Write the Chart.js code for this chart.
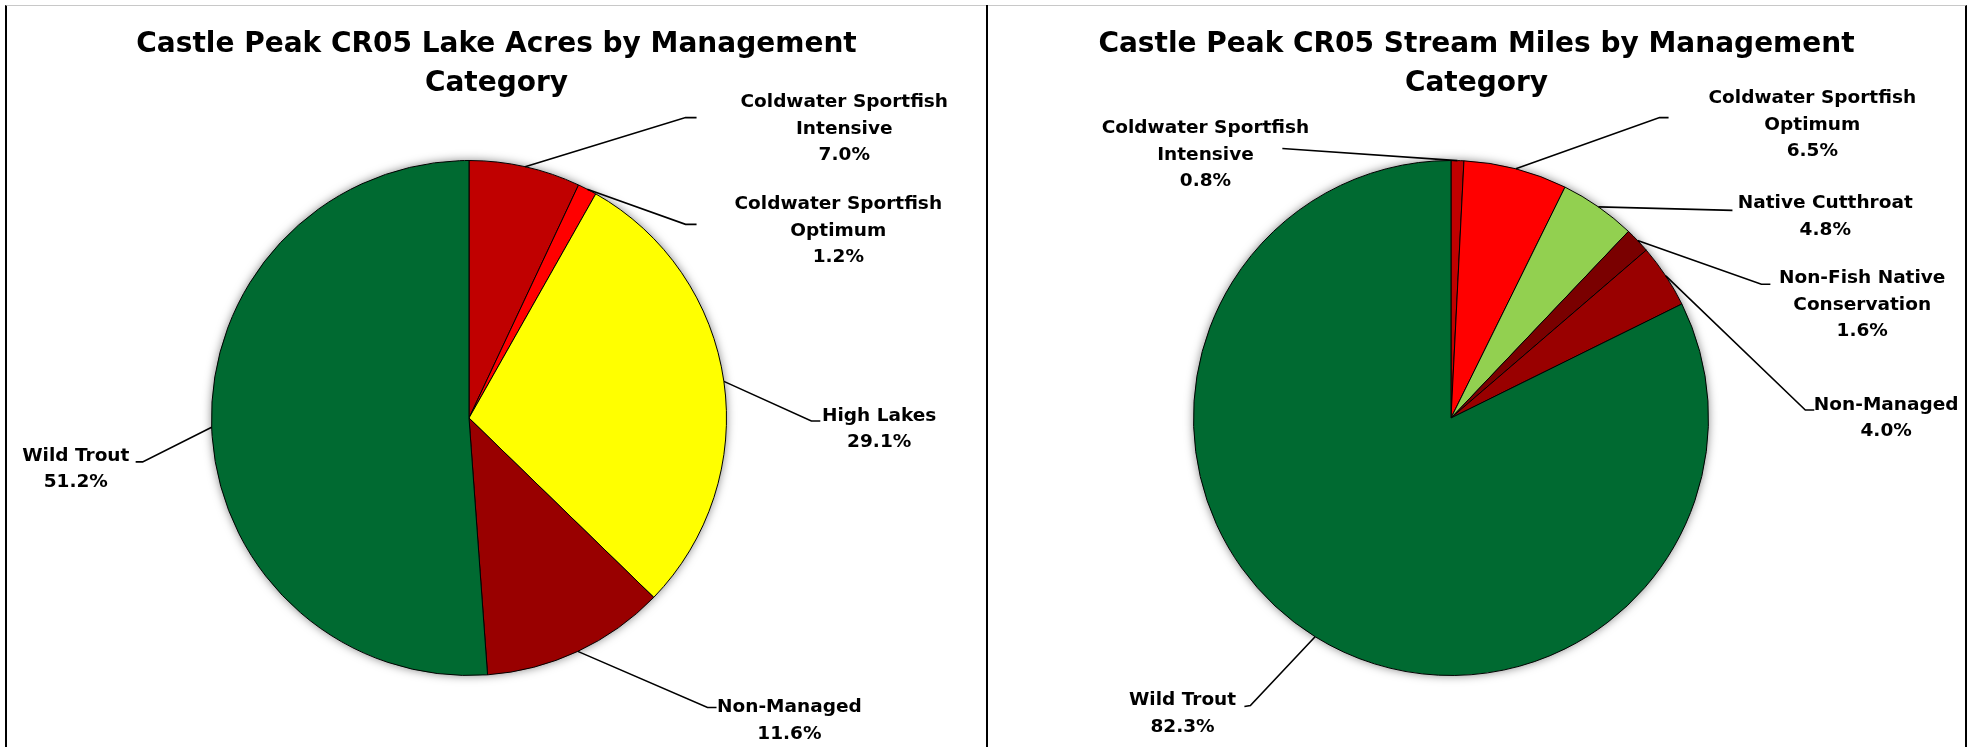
<!DOCTYPE html>
<html>
<head>
<meta charset="utf-8">
<title>Castle Peak CR05 by Management Category</title>
<script src="https://cdn.jsdelivr.net/npm/chart.js@4.4.1/dist/chart.umd.min.js"></script>
<style>
  body { margin: 0; background: #fff; }
  #frame {
    position: absolute; left: 5px; top: 5px; width: 1958px; height: 742px;
    border-top: 1px solid #c8c8c8; border-left: 2px solid #000; border-right: 2px solid #000;
  }
  #divider { position: absolute; left: 986px; top: 5px; width: 2px; height: 742px; background: #000; }
  canvas { position: absolute; top: 6px; }
  #lakeChart { left: 7px; }
  #streamChart { left: 988px; }
</style>
</head>
<body>
<div id="frame"></div>
<div id="divider"></div>
<canvas id="lakeChart" width="979" height="741"></canvas>
<canvas id="streamChart" width="977" height="741"></canvas>

<script>
// lake acres (%)
var lakeCategories = [
    ["Coldwater Sportfish", "Intensive"],
    ["Coldwater Sportfish", "Optimum"],
    ["High Lakes"],
    ["Non-Managed"],
    ["Wild Trout"]
];
var lakeValues = [7.0, 1.2, 29.1, 11.6, 51.2];
var lakeColors = ["#C00000", "#FF0000", "#FFFF00", "#990000", "#006A31"];

// stream miles (%)
var streamCategories = [
    ["Coldwater Sportfish", "Intensive"],
    ["Coldwater Sportfish", "Optimum"],
    ["Native Cutthroat"],
    ["Non-Fish Native", "Conservation"],
    ["Non-Managed"],
    ["Wild Trout"]
];
var streamValues = [0.8, 6.5, 4.8, 1.6, 4.0, 82.3];
var streamColors = ["#C00000", "#FF0000", "#92D050", "#7A0000", "#990000", "#006A31"];

// callout placement, pixels from the pie centre for a 258px radius
var lakeCallouts = [
    { tx: 376, ty: -316, leader: [[217, -301], [228, -301]] },
    { tx: 370, ty: -214, leader: [[217, -194], [228, -194]] },
    { tx: 411, ty: -2,   leader: [[343, 3], [352, 3]] },
    { tx: 321, ty: 290,  leader: [[239, 290], [248, 290]] },
    { tx: -394, ty: 38,  leader: [[-327, 44], [-334, 44]] }
];
var streamCallouts = [
    { tx: -246, ty: -290, leader: [[-169, -270]] },
    { tx: 362, ty: -320,  leader: [[209, -301], [218, -301]] },
    { tx: 375, ty: -215,  leader: [[282, -208]] },
    { tx: 412, ty: -140,  leader: [[311, -134], [320, -134]] },
    { tx: 436, ty: -13,   leader: [[355, -8], [364, -8]] },
    { tx: -269, ty: 283,  leader: [[-201, 288], [-207, 289]] }
];

var FONT = "'DejaVu Sans', Verdana, sans-serif";

// two-line heading centred on the panel
var panelTitle = {
    id: "panelTitle",
    afterDraw: function(chart, args, opts) {
        var ctx = chart.ctx;
        ctx.save();
        ctx.fillStyle = "#000";
        ctx.font = "bold 28px " + FONT;
        ctx.textAlign = "center";
        ctx.textBaseline = "alphabetic";
        opts.lines.forEach(function(t, j) {
            ctx.fillText(t, chart.width / 2, 46 + j * 39);
        });
        ctx.restore();
    }
};

// soft shadow behind the pie
var pieShadow = {
    id: "pieShadow",
    beforeDatasetsDraw: function(chart) {
        var arc = chart.getDatasetMeta(0).data[0];
        if (!arc) return;
        var p = arc.getProps(["x", "y", "outerRadius"], true);
        var ctx = chart.ctx;
        ctx.save();
        ctx.shadowColor = "rgba(0,0,0,0.5)";
        ctx.shadowBlur = 10;
        ctx.fillStyle = "#fff";
        ctx.beginPath();
        ctx.arc(p.x, p.y, p.outerRadius, 0, Math.PI * 2);
        ctx.fill();
        ctx.restore();
    }
};

// labels outside the pie with leader lines from each slice's mid angle
var calloutLabels = {
    id: "calloutLabels",
    afterDatasetsDraw: function(chart, args, opts) {
        var ctx = chart.ctx;
        var values = chart.data.datasets[0].data;
        ctx.save();
        ctx.strokeStyle = "#000";
        ctx.lineWidth = 1.6;
        ctx.fillStyle = "#000";
        ctx.font = "bold 18.5px " + FONT;
        ctx.textAlign = "center";
        ctx.textBaseline = "middle";
        chart.getDatasetMeta(0).data.forEach(function(arc, i) {
            var p = arc.getProps(["x", "y", "startAngle", "endAngle", "outerRadius"], true);
            var mid = (p.startAngle + p.endAngle) / 2;
            var k = p.outerRadius / 258;
            var c = opts.layout[i];
            ctx.beginPath();
            ctx.moveTo(p.x + Math.cos(mid) * p.outerRadius, p.y + Math.sin(mid) * p.outerRadius);
            c.leader.forEach(function(pt) {
                ctx.lineTo(p.x + pt[0] * k, p.y + pt[1] * k);
            });
            ctx.stroke();
            var lines = chart.data.labels[i].concat([values[i].toFixed(1) + "%"]);
            lines.forEach(function(t, j) {
                ctx.fillText(t, p.x + c.tx * k, p.y + (c.ty + j * 26.5) * k);
            });
        });
        ctx.restore();
    }
};

function makePie(id, categories, values, colors, callouts, title, padding) {
    return new Chart(document.getElementById(id), {
        type: "pie",
        data: {
            labels: categories,
            datasets: [{
                data: values,
                backgroundColor: colors,
                borderColor: "#000",
                borderWidth: 1
            }]
        },
        options: {
            responsive: false,
            animation: false,
            layout: { padding: padding },
            plugins: {
                legend: { display: false },
                tooltip: { enabled: false },
                title: { display: false },
                panelTitle: { lines: title },
                calloutLabels: { layout: callouts }
            }
        },
        plugins: [pieShadow, calloutLabels, panelTitle]
    });
}

makePie("lakeChart", lakeCategories, lakeValues, lakeColors, lakeCallouts,
    ["Castle Peak CR05 Lake Acres by Management", "Category"],
    { top: 154, bottom: 71, left: 204, right: 259 });

makePie("streamChart", streamCategories, streamValues, streamColors, streamCallouts,
    ["Castle Peak CR05 Stream Miles by Management", "Category"],
    { top: 154, bottom: 71, left: 205, right: 256 });
</script>
</body>
</html>
